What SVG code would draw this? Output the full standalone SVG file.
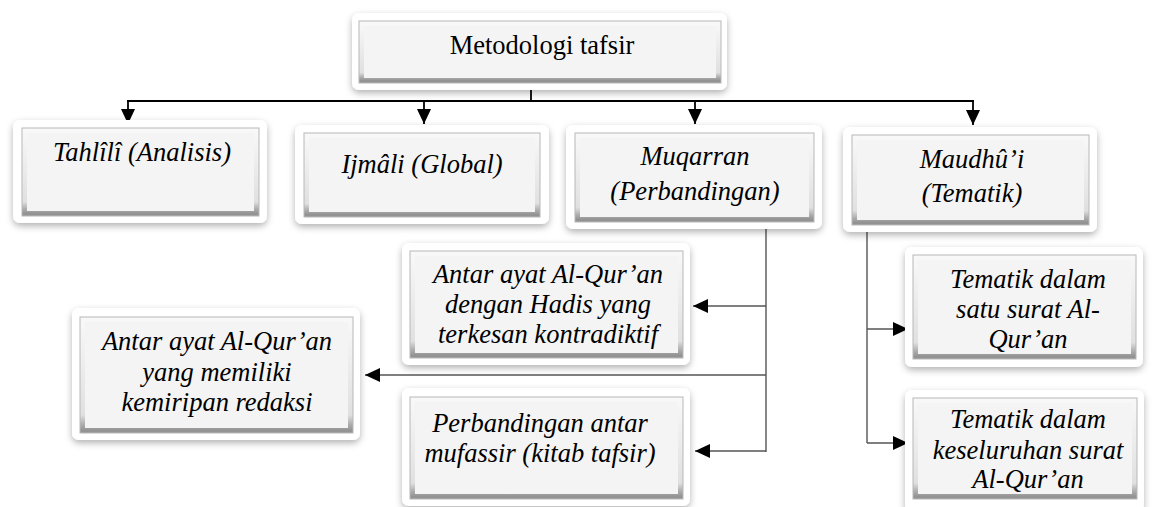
<svg xmlns="http://www.w3.org/2000/svg" width="1154" height="507" viewBox="0 0 1154 507">
<style>
.outer{fill:#ffffff;filter:url(#sh);}
.face{fill:#f4f4f4;stroke:url(#bevel);stroke-width:5;}
.edge{fill:none;stroke:#b8b8b8;stroke-width:1;}
text{font-family:"Liberation Serif","Times New Roman",serif;font-size:26.5px;fill:#000;text-anchor:middle;}
.it{font-style:italic;}
.main{stroke:#000;stroke-width:1.8;fill:none;}
.br{stroke:#555;stroke-width:1.4;fill:none;}
</style>
<defs>
<filter id="sh" x="-10%" y="-15%" width="120%" height="140%">
<feDropShadow dx="0" dy="3" stdDeviation="3.5" flood-color="#000" flood-opacity="0.3"/>
</filter>
<linearGradient id="bevel" x1="0" y1="0" x2="0" y2="1">
<stop offset="0" stop-color="#f8f8f8"/>
<stop offset="0.86" stop-color="#e0e0e0"/>
<stop offset="0.94" stop-color="#b0b0b0"/>
<stop offset="1" stop-color="#939393"/>
</linearGradient>
<marker id="ah" viewBox="0 0 15 14" refX="15" refY="7" markerWidth="15" markerHeight="14" markerUnits="userSpaceOnUse" orient="auto">
<path d="M0,0 L15,7 L0,14 Z" fill="#000"/>
</marker>
</defs>
<rect width="1154" height="507" fill="#ffffff"/>

<g id="connectors">
<line class="main" x1="531" y1="90" x2="531" y2="101"/>
<line class="main" x1="127" y1="101" x2="974" y2="101"/>
<line class="main" x1="128" y1="101" x2="128" y2="124" marker-end="url(#ah)"/>
<line class="main" x1="424" y1="101" x2="424" y2="124" marker-end="url(#ah)"/>
<line class="main" x1="695" y1="101" x2="695" y2="124" marker-end="url(#ah)"/>
<line class="main" x1="973" y1="101" x2="973" y2="125" marker-end="url(#ah)"/>
<line class="br" x1="766" y1="229" x2="766" y2="452"/>
<line class="br" x1="766" y1="306" x2="693" y2="306" marker-end="url(#ah)"/>
<line class="br" x1="766" y1="375" x2="365" y2="375" marker-end="url(#ah)"/>
<line class="br" x1="766" y1="451" x2="695" y2="451" marker-end="url(#ah)"/>
<line class="br" x1="867" y1="232" x2="867" y2="443"/>
<line class="br" x1="867" y1="329" x2="908" y2="329" marker-end="url(#ah)"/>
<line class="br" x1="867" y1="443" x2="908" y2="443" marker-end="url(#ah)"/>
</g>

<g id="n-metodologi">
<rect class="outer" x="352" y="13" width="375" height="77" rx="7"/>
<rect class="face" x="361.5" y="23.5" width="357" height="57"/>
<rect class="edge" x="359" y="21" width="362" height="62"/>
<text x="542" y="54">Metodologi tafsir</text>
</g>

<g id="n-tahlili">
<rect class="outer" x="13" y="120" width="254" height="103" rx="7"/>
<rect class="face" x="24.5" y="130.5" width="232" height="83"/>
<rect class="edge" x="22" y="128" width="237" height="88"/>
<text class="it" x="142" y="161">Tahlîlî (Analisis)</text>
</g>

<g id="n-ijmali">
<rect class="outer" x="295" y="125" width="254" height="99" rx="7"/>
<rect class="face" x="306.5" y="135.5" width="231" height="79"/>
<rect class="edge" x="304" y="133" width="236" height="84"/>
<text class="it" x="422" y="173">Ijmâli (Global)</text>
</g>

<g id="n-muqarran">
<rect class="outer" x="566" y="125" width="256" height="104" rx="7"/>
<rect class="face" x="577.5" y="135.5" width="234" height="84"/>
<rect class="edge" x="575" y="133" width="239" height="89"/>
<text class="it" x="695" y="165">Muqarran</text>
<text class="it" x="695" y="200">(Perbandingan)</text>
</g>

<g id="n-maudhui">
<rect class="outer" x="843" y="127" width="254" height="105" rx="7"/>
<rect class="face" x="854.5" y="137.5" width="232" height="85"/>
<rect class="edge" x="852" y="135" width="237" height="90"/>
<text class="it" x="972" y="168">Maudhû’i</text>
<text class="it" x="972" y="202">(Tematik)</text>
</g>

<g id="n-hadis">
<rect class="outer" x="402" y="243" width="288" height="122" rx="7"/>
<rect class="face" x="412.5" y="253.5" width="268" height="102"/>
<rect class="edge" x="410" y="251" width="273" height="107"/>
<text class="it" x="548" y="283">Antar ayat Al-Qur’an</text>
<text class="it" x="548" y="313">dengan Hadis yang</text>
<text class="it" x="548" y="343">terkesan kontradiktif</text>
</g>

<g id="n-redaksi">
<rect class="outer" x="72" y="308" width="288" height="132" rx="7"/>
<rect class="face" x="82.5" y="319.5" width="268" height="111"/>
<rect class="edge" x="80" y="317" width="273" height="116"/>
<text class="it" x="217" y="350">Antar ayat Al-Qur’an</text>
<text class="it" x="217" y="381">yang memiliki</text>
<text class="it" x="217" y="411">kemiripan redaksi</text>
</g>

<g id="n-mufassir">
<rect class="outer" x="402" y="388" width="288" height="118" rx="7"/>
<rect class="face" x="412.5" y="399.5" width="268" height="97"/>
<rect class="edge" x="410" y="397" width="273" height="102"/>
<text class="it" x="540" y="432">Perbandingan antar</text>
<text class="it" x="540" y="462">mufassir (kitab tafsir)</text>
</g>

<g id="n-satu-surat">
<rect class="outer" x="905" y="247" width="238" height="120" rx="7"/>
<rect class="face" x="915.5" y="257.5" width="218" height="99"/>
<rect class="edge" x="913" y="255" width="223" height="104"/>
<text class="it" x="1028" y="288">Tematik dalam</text>
<text class="it" x="1028" y="318">satu surat Al-</text>
<text class="it" x="1028" y="348">Qur’an</text>
</g>

<g id="n-keseluruhan">
<rect class="outer" x="905" y="390" width="239" height="122" rx="7"/>
<rect class="face" x="915.5" y="400.5" width="219" height="96"/>
<rect class="edge" x="913" y="398" width="224" height="101"/>
<text class="it" x="1028" y="428">Tematik dalam</text>
<text class="it" x="1028" y="459">keseluruhan surat</text>
<text class="it" x="1028" y="488">Al-Qur’an</text>
</g>
</svg>
